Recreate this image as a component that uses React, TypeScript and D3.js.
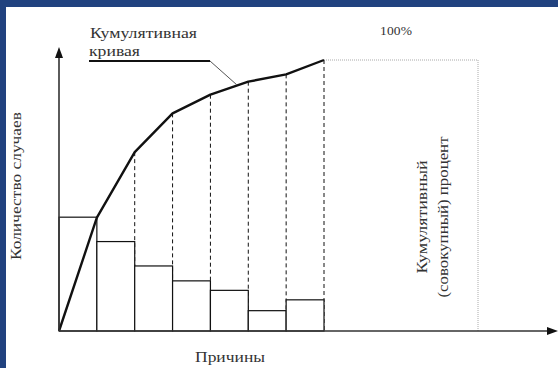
import React from "react";
import * as d3 from "d3";

const causes = ["1", "2", "3", "4", "5", "6", "7"];
const counts = [42, 33, 24, 18.5, 15, 7.5, 11.5];
const cumulativePct = [0, 41.8, 66, 80.3, 87.2, 92, 94.7, 100];
const title1 = "Кумулятивная";
const title2 = "кривая";
const yLabel = "Количество случаев";
const xLabel = "Причины";
const pctLabel = "100%";
const rightLabel1 = "Кумулятивный";
const rightLabel2 = "(совокупный) процент";

const W = 558;
const H = 368;
const x0 = 59;
const x1 = 324;
const y0 = 331;
const yTop = 60;
const font = "'Liberation Serif', 'DejaVu Serif', serif";

export default function App() {
  const x = d3.scaleBand<string>().domain(causes).range([x0, x1]).paddingInner(0).paddingOuter(0);
  const y = d3.scaleLinear().domain([0, 100]).range([y0, yTop]);
  const edges = [x0, ...causes.map((c) => (x(c) as number) + x.bandwidth())];
  const pts: [number, number][] = cumulativePct.map((p, i) => [edges[i], y(p)]);
  const line = d3.line();
  const rightX = 478;
  const ts = { fontFamily: font } as React.CSSProperties;

  return (
    <svg width={W} height={H} style={{ position: "absolute", left: 0, top: 0, background: "#fff" }}>
      <rect x={0} y={0} width={W} height={H} fill="#fff" />
      {pts.slice(2).map((p, i) => (
        <line key={"d" + i} x1={p[0]} x2={p[0]} y1={p[1]} y2={y0} stroke="#111" strokeWidth={1} strokeDasharray="4,3" />
      ))}
      <path d={`M${x1},${yTop}H${rightX}V${y0}`} fill="none" stroke="#aaa" strokeWidth={1} strokeDasharray="1,1" />
      {causes.map((c, i) => (
        <rect key={c} x={x(c)} y={y(counts[i])} width={x.bandwidth()} height={y0 - y(counts[i])} fill="#fff" stroke="#111" strokeWidth={1.2} />
      ))}
      <path d={line(pts) || ""} fill="none" stroke="#111" strokeWidth={2.4} strokeLinejoin="round" />
      <line x1={x0} x2={x0} y1={y0} y2={57} stroke="#333" strokeWidth={1.6} />
      <path d={`M${x0 - 4},${58}L${x0},${47}L${x0 + 4},${58}Z`} fill="#111" />
      <line x1={x0} x2={548} y1={y0} y2={y0} stroke="#333" strokeWidth={1.6} />
      <path d={`M${547},${y0 - 4}L${558},${y0}L${547},${y0 + 4}Z`} fill="#111" />
      <text x={90} y={38} style={ts} fontSize={14} fill="#333" textLength={107} lengthAdjust="spacingAndGlyphs">{title1}</text>
      <text x={89} y={56} style={ts} fontSize={14} fill="#333" textLength={51} lengthAdjust="spacingAndGlyphs">{title2}</text>
      <line x1={89} x2={210} y1={61} y2={61} stroke="#111" strokeWidth={2} />
      <line x1={210} x2={237} y1={61} y2={85} stroke="#555" strokeWidth={1} />
      <text x={380} y={35} style={ts} fontSize={13.5} fill="#333" textLength={32} lengthAdjust="spacing">{pctLabel}</text>
      <text transform={`translate(427,217) rotate(-90)`} textAnchor="middle" style={ts} fontSize={14} fill="#333" textLength={113} lengthAdjust="spacingAndGlyphs">{rightLabel1}</text>
      <text transform={`translate(448,217) rotate(-90)`} textAnchor="middle" style={ts} fontSize={14} fill="#333" textLength={161} lengthAdjust="spacingAndGlyphs">{rightLabel2}</text>
      <text transform={`translate(21,186) rotate(-90)`} textAnchor="middle" style={ts} fontSize={14} fill="#333" textLength={148} lengthAdjust="spacingAndGlyphs">{yLabel}</text>
      <text x={230} y={362} textAnchor="middle" style={ts} fontSize={14} fill="#333" textLength={70} lengthAdjust="spacingAndGlyphs">{xLabel}</text>
      <rect x={0} y={0} width={W} height={7} fill="#21427f" />
      <rect x={0} y={0} width={6} height={H} fill="#21427f" />
    </svg>
  );
}
